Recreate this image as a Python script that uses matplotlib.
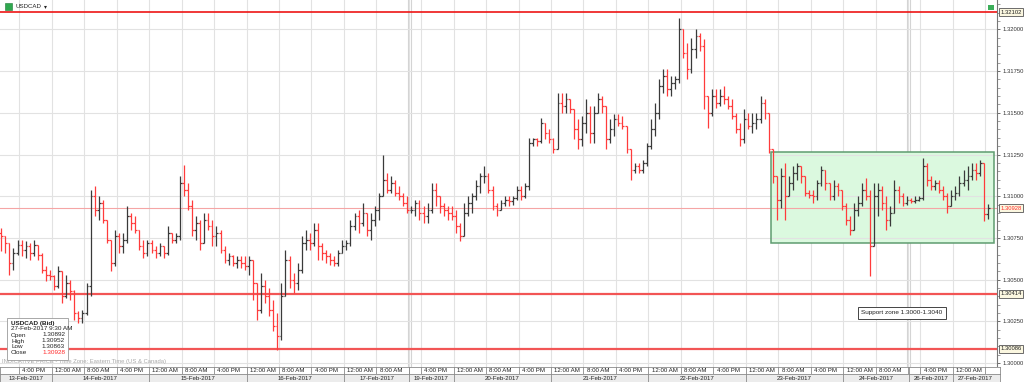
import numpy as np
import pandas as pd
import matplotlib
matplotlib.use("Agg")
import matplotlib.pyplot as plt
from matplotlib.patches import Rectangle
from matplotlib.transforms import blended_transform_factory

plt.rcParams['font.family'] = ['Liberation Sans', 'DejaVu Sans']

# hourly USDCAD bid bars, prices in pips above 1.30000
base = 1.30
first_open = 78
close_pips = [76, 72, 60, 66, 71, 68, 70, 66, 71, 65,
              56, 53, 52, 46, 55, 40, 48, 43, 30, 27,
              30, 46, 100, 92, 96, 86, 74, 60, 76, 70,
              74, 88, 84, 80, 70, 66, 72, 68, 66, 70,
              66, 78, 74, 76, 108, 104, 94, 80, 84, 72,
              86, 82, 76, 78, 68, 62, 64, 60, 62, 60,
              58, 62, 48, 32, 46, 40, 32, 22, 16, 40,
              62, 50, 48, 56, 72, 74, 72, 80, 70, 66,
              64, 62, 60, 66, 70, 72, 82, 88, 84, 90,
              80, 86, 92, 100, 110, 104, 108, 102, 100, 96,
              92, 92, 96, 90, 88, 92, 104, 100, 94, 92,
              90, 88, 82, 76, 90, 96, 100, 106, 112, 112,
              104, 94, 92, 96, 98, 97, 99, 104, 100, 106,
              132, 134, 133, 144, 138, 134, 128, 156, 154, 158,
              152, 140, 134, 144, 150, 138, 150, 158, 154, 134,
              140, 146, 144, 142, 128, 116, 118, 116, 120, 130,
              140, 150, 166, 172, 164, 168, 170, 200, 186, 176,
              188, 196, 190, 160, 150, 160, 156, 160, 158, 154,
              148, 140, 134, 146, 142, 144, 146, 156, 150, 128,
              112, 98, 112, 100, 108, 114, 118, 112, 102, 101,
              100, 108, 116, 108, 100, 106, 104, 94, 86, 80,
              92, 96, 104, 100, 70, 100, 104, 96, 86, 90,
              104, 100, 96, 98, 97, 98, 99, 118, 110, 106,
              108, 104, 100, 94, 100, 102, 108, 110, 112, 116,
              114, 120, 89.2, 92.8]
high_pips = [81, 76, 72, 69, 74, 74, 73, 72, 74, 71,
             66, 58, 56, 53, 58, 55, 53, 50, 44, 31,
             32, 48, 104, 106, 100, 98, 86, 74, 80, 78,
             78, 94, 90, 88, 80, 74, 74, 74, 70, 72,
             70, 82, 78, 78, 112, 119, 108, 98, 88, 86,
             90, 90, 86, 82, 80, 70, 66, 65, 64, 64,
             64, 64, 62, 48, 54, 50, 45, 38, 30, 48,
             68, 64, 54, 60, 76, 80, 78, 84, 84, 72,
             68, 66, 64, 68, 74, 74, 86, 90, 92, 96,
             90, 90, 94, 102, 125, 114, 112, 110, 106, 102,
             100, 94, 98, 98, 94, 96, 108, 108, 100, 96,
             94, 94, 92, 84, 96, 100, 102, 110, 114, 118,
             114, 106, 96, 98, 100, 100, 100, 106, 106, 108,
             135, 135, 135, 147, 144, 140, 135, 162, 162, 162,
             158, 152, 146, 148, 158, 154, 154, 162, 160, 150,
             146, 149, 149, 148, 142, 126, 120, 120, 122, 132,
             146, 156, 170, 176, 176, 172, 172, 207, 200, 192,
             195, 200, 198, 194, 160, 164, 164, 164, 166, 160,
             158, 150, 144, 152, 150, 150, 150, 160, 158, 150,
             126, 112, 117, 120, 112, 118, 120, 118, 112, 104,
             104, 110, 118, 116, 108, 110, 108, 104, 96, 88,
             96, 100, 108, 111, 104, 108, 108, 106, 100, 94,
             110, 106, 102, 100, 99, 100, 100, 123, 120, 112,
             110, 110, 106, 102, 104, 106, 112, 116, 118, 120,
             120, 122, 110, 95.2]
low_pips = [67, 66, 53, 56, 65, 64, 63, 62, 64, 62,
            54, 49, 50, 44, 45, 36, 39, 38, 26, 24,
            24, 29, 40, 88, 86, 84, 72, 55, 58, 66,
            66, 72, 80, 78, 68, 63, 64, 66, 63, 64,
            63, 65, 72, 72, 74, 100, 92, 76, 74, 68,
            72, 80, 70, 70, 66, 60, 59, 58, 57, 57,
            56, 53, 38, 26, 30, 36, 28, 19, 8, 14,
            40, 45, 42, 44, 54, 68, 68, 70, 62, 62,
            60, 59, 58, 58, 68, 68, 70, 80, 78, 82,
            76, 74, 82, 86, 104, 102, 102, 100, 98, 94,
            90, 90, 88, 86, 84, 84, 90, 94, 90, 88,
            86, 86, 78, 73, 76, 88, 90, 98, 102, 108,
            102, 92, 88, 92, 94, 94, 95, 98, 98, 99,
            104, 130, 130, 132, 134, 132, 126, 128, 150, 150,
            150, 134, 128, 130, 138, 132, 132, 150, 150, 128,
            132, 136, 142, 140, 126, 110, 114, 114, 114, 118,
            128, 136, 146, 162, 160, 160, 164, 168, 183, 170,
            174, 183, 187, 152, 141, 148, 153, 154, 155, 152,
            146, 138, 130, 132, 140, 138, 140, 144, 146, 126,
            108, 86, 93, 86, 100, 104, 110, 108, 100, 99,
            96, 98, 106, 104, 98, 98, 100, 92, 83, 77,
            80, 88, 94, 98, 52, 70, 88, 92, 80, 82,
            90, 96, 94, 95, 96, 96, 97, 98, 106, 104,
            104, 102, 98, 90, 94, 98, 100, 106, 104, 110,
            110, 112, 85, 86.3]

# trading sessions (weekend gaps removed)
sessions = [("2017-02-13 12:00", "2017-02-17 16:00"),
            ("2017-02-19 14:00", "2017-02-24 16:00"),
            ("2017-02-26 14:00", "2017-02-27 09:00")]

levels = [1.32102, 1.30414, 1.30086]
last_price = 1.30928
zone_start, zone_end = "2017-02-23 07:00", "2017-02-27 11:00"
zone_low, zone_high = 1.30719, 1.31265
zone_text = "Support zone 1.3000-1.3040"
info_rows = [("Open", "1.30892"), ("High", "1.30952"), ("Low", "1.30863"), ("Close", "1.30928")]

W, H = 1024, 382
def fb(l, t, r, b):
    return [l / W, 1 - b / H, (r - l) / W, (b - t) / H]

times = pd.DatetimeIndex(np.concatenate([pd.date_range(a, b, freq="h").values for a, b in sessions]))
x = np.arange(len(times))
c = base + np.array(close_pips) / 1e4
h = base + np.array(high_pips) / 1e4
l = base + np.array(low_pips) / 1e4
o = np.r_[base + first_open / 1e4, c[:-1]]
h = np.maximum(h, np.maximum(o, c))
l = np.minimum(l, np.minimum(o, c))
col = np.where(c >= o, '#3a3a3a', '#ff3b3b')

def bar_pos(ts):
    # position of a timestamp on the bar axis (may run past the last bar)
    ts = pd.Timestamp(ts)
    if ts in times:
        return times.get_loc(ts)
    return len(times) - 1 + (ts - times[-1]) / pd.Timedelta(hours=1)

fig = plt.figure(figsize=(10.24, 3.82), dpi=100)
ax = fig.add_axes(fb(0, 0, 997, 367))
xmin, xmax = -0.32, 245.25
ax.set_xlim(xmin, xmax)
ax.set_ylim(1.29976, 1.321763)

# tick positions: every 8 hours
tick_idx = [i for i, t in enumerate(times) if t.hour in (0, 8, 16)]
breaks = [i + 0.5 for i in range(len(times) - 1) if (times[i + 1] - times[i]) > pd.Timedelta(hours=1)]

for i in tick_idx:
    ax.axvline(i + 0.4, color='#e2e2e2', lw=0.8, zorder=0)
for b in breaks:
    ax.axvline(b - 0.4, color='#d4d4d4', lw=0.8, zorder=0)
    ax.axvline(b + 0.4, color='#d4d4d4', lw=0.8, zorder=0)

ax.set_yticks(np.arange(1.30, 1.32001, 0.0025))
ax.set_yticks(np.arange(1.30, 1.3216, 0.0005), minor=True)
ax.grid(axis='y', which='major', color='#e2e2e2', lw=0.8, zorder=0)
ax.yaxis.tick_right()
ax.yaxis.set_major_formatter(matplotlib.ticker.FormatStrFormatter('%.5f'))
ax.tick_params(axis='y', which='major', length=2.5, width=0.6, pad=1.5, labelsize=4.2,
               colors='#555', labelcolor='#333')
ax.tick_params(axis='y', which='minor', length=1.8, width=0.5, colors='#777')
ax.set_xticks([])
for s in ['left', 'top', 'bottom']:
    ax.spines[s].set_visible(False)
ax.spines['right'].set_color('#777')
ax.spines['right'].set_linewidth(0.8)

# support zone box
i0 = bar_pos(zone_start)
i1 = bar_pos(zone_end)
ax.add_patch(Rectangle((i0 - 0.5, zone_low), i1 - i0, zone_high - zone_low,
                       fc='#dbf9df', ec='none', zorder=1))
ax.add_patch(Rectangle((i0 - 0.5, zone_low), i1 - i0, zone_high - zone_low,
                       fc='none', ec='#5f9c70', lw=1.1, zorder=4))

# level lines
ax.axhline(levels[0], color='#ee1515', lw=1.2, zorder=3)
for lv in levels[1:]:
    ax.axhline(lv, color='#f25555', lw=1.6, zorder=3)
ax.axhline(last_price, color='#f5a5a5', lw=0.8, zorder=2)

# OHLC bars
ax.vlines(x, l, h, colors=col, lw=0.9, zorder=5)
ax.hlines(o, x - 0.45, x, colors=col, lw=0.9, zorder=5)
ax.hlines(c, x, x + 0.45, colors=col, lw=0.9, zorder=5)

# price tags on the right axis
tr = blended_transform_factory(ax.transAxes, ax.transData)
for lv in levels + [last_price]:
    ax.text(1.0035, lv, f"{lv:.5f}", transform=tr, ha='left', va='center', fontsize=4.2,
            color='#ff2a2a' if lv == last_price else '#222', clip_on=False, zorder=10,
            bbox=dict(boxstyle='square,pad=0.25', fc='#fbf7e0', ec='#555', lw=0.6))

# annotation
ax.text(902 / 997 * (xmax - xmin) + xmin, 1.30 + (363 - 313) / 16680, zone_text,
        ha='center', va='center', fontsize=4.6, color='#222', zorder=10,
        bbox=dict(boxstyle='square,pad=0.6', fc='white', ec='#444', lw=0.7))

# header
fig.patches.append(Rectangle((5 / W, 1 - 10 / H), 7 / W, 7 / H, transform=fig.transFigure,
                             fc='#2fa84f', ec='#1d7a35', lw=0.4))
fig.text(15 / W, 1 - 7 / H, "USDCAD", fontsize=4.4, color='#222', va='center')
fig.text(44 / W, 1 - 7 / H, "\u25be", fontsize=4.2, color='#222', va='center',
         family=['DejaVu Sans'])
fig.patches.append(Rectangle((988 / W, 1 - 10 / H), 6 / W, 5 / H, transform=fig.transFigure,
                             fc='#3cae5a', ec='none'))

# info box
fig.patches.append(Rectangle((7 / W, 1 - 360 / H), 61 / W, 42 / H, transform=fig.transFigure,
                             fc='white', ec='#9a9a9a', lw=0.6, zorder=8))
fig.text(11 / W, 1 - 323 / H, "USDCAD (Bid)", fontsize=4.6, weight='bold', color='#222', va='center', zorder=9)
fig.text(11 / W, 1 - 329 / H, "27-Feb-2017 9:30 AM", fontsize=4.6, color='#222', va='center', zorder=9)
for k, (name, val) in enumerate(info_rows):
    yy = 1 - (335 + 6 * k) / H
    fig.text(11 / W, yy, name, fontsize=4.6, color='#222', va='center', zorder=9)
    fig.text(65 / W, yy, val, fontsize=4.6, ha='right', va='center', zorder=9,
             color='#ff2a2a' if name == "Close" else '#222')
fig.text(2 / W, 1 - 362 / H, "INDICATIVE PRICE - Time Zone: Eastern Time (US & Canada)",
         fontsize=4.2, color='#a8a8a8', va='center')

# time row and date row
axt = fig.add_axes(fb(0, 367, 1000, 374))
axd = fig.add_axes(fb(0, 374, 1000, 382))
for a in (axt, axd):
    a.set_xlim(xmin, xmin + (xmax - xmin) * 1000 / 997)
    a.set_ylim(0, 1)
    a.set_xticks([])
    a.set_yticks([])
    for s in a.spines.values():
        s.set_color('#8a8a8a')
        s.set_linewidth(0.6)
axt.set_facecolor('white')
axd.set_facecolor('#ececec')

seps = sorted(set([i + 0.4 for i in tick_idx] + breaks))
for s in seps:
    axt.axvline(s, color='#8a8a8a', lw=0.6)
for k, i in enumerate(tick_idx):
    pos = i + 0.4
    nxt = [s for s in seps if s > pos + 0.1]
    room = (nxt[0] if nxt else xmax) - pos
    if room >= 5:
        lab = times[i].strftime("%I:%M %p").lstrip("0")
        axt.text(pos + 0.8, 0.5, lab, fontsize=4.4, color='#222', va='center', ha='left')

day_start = [0] + [i for i in range(1, len(times)) if times[i].date() != times[i - 1].date()]
day_bounds = [i - 0.5 if i - 0.5 in breaks or i == 0 else i + 0.4 for i in day_start]
day_bounds[0] = xmin
ends = day_bounds[1:] + [xmax]
for k, i in enumerate(day_start):
    if k > 0:
        axd.axvline(day_bounds[k], color='#8a8a8a', lw=0.6)
    axd.text((day_bounds[k] + ends[k]) / 2, 0.45, times[i].strftime("%d-%b-%Y"), fontsize=4.4,
             color='#222', ha='center', va='center')

fig.savefig("out.png", dpi=100)
